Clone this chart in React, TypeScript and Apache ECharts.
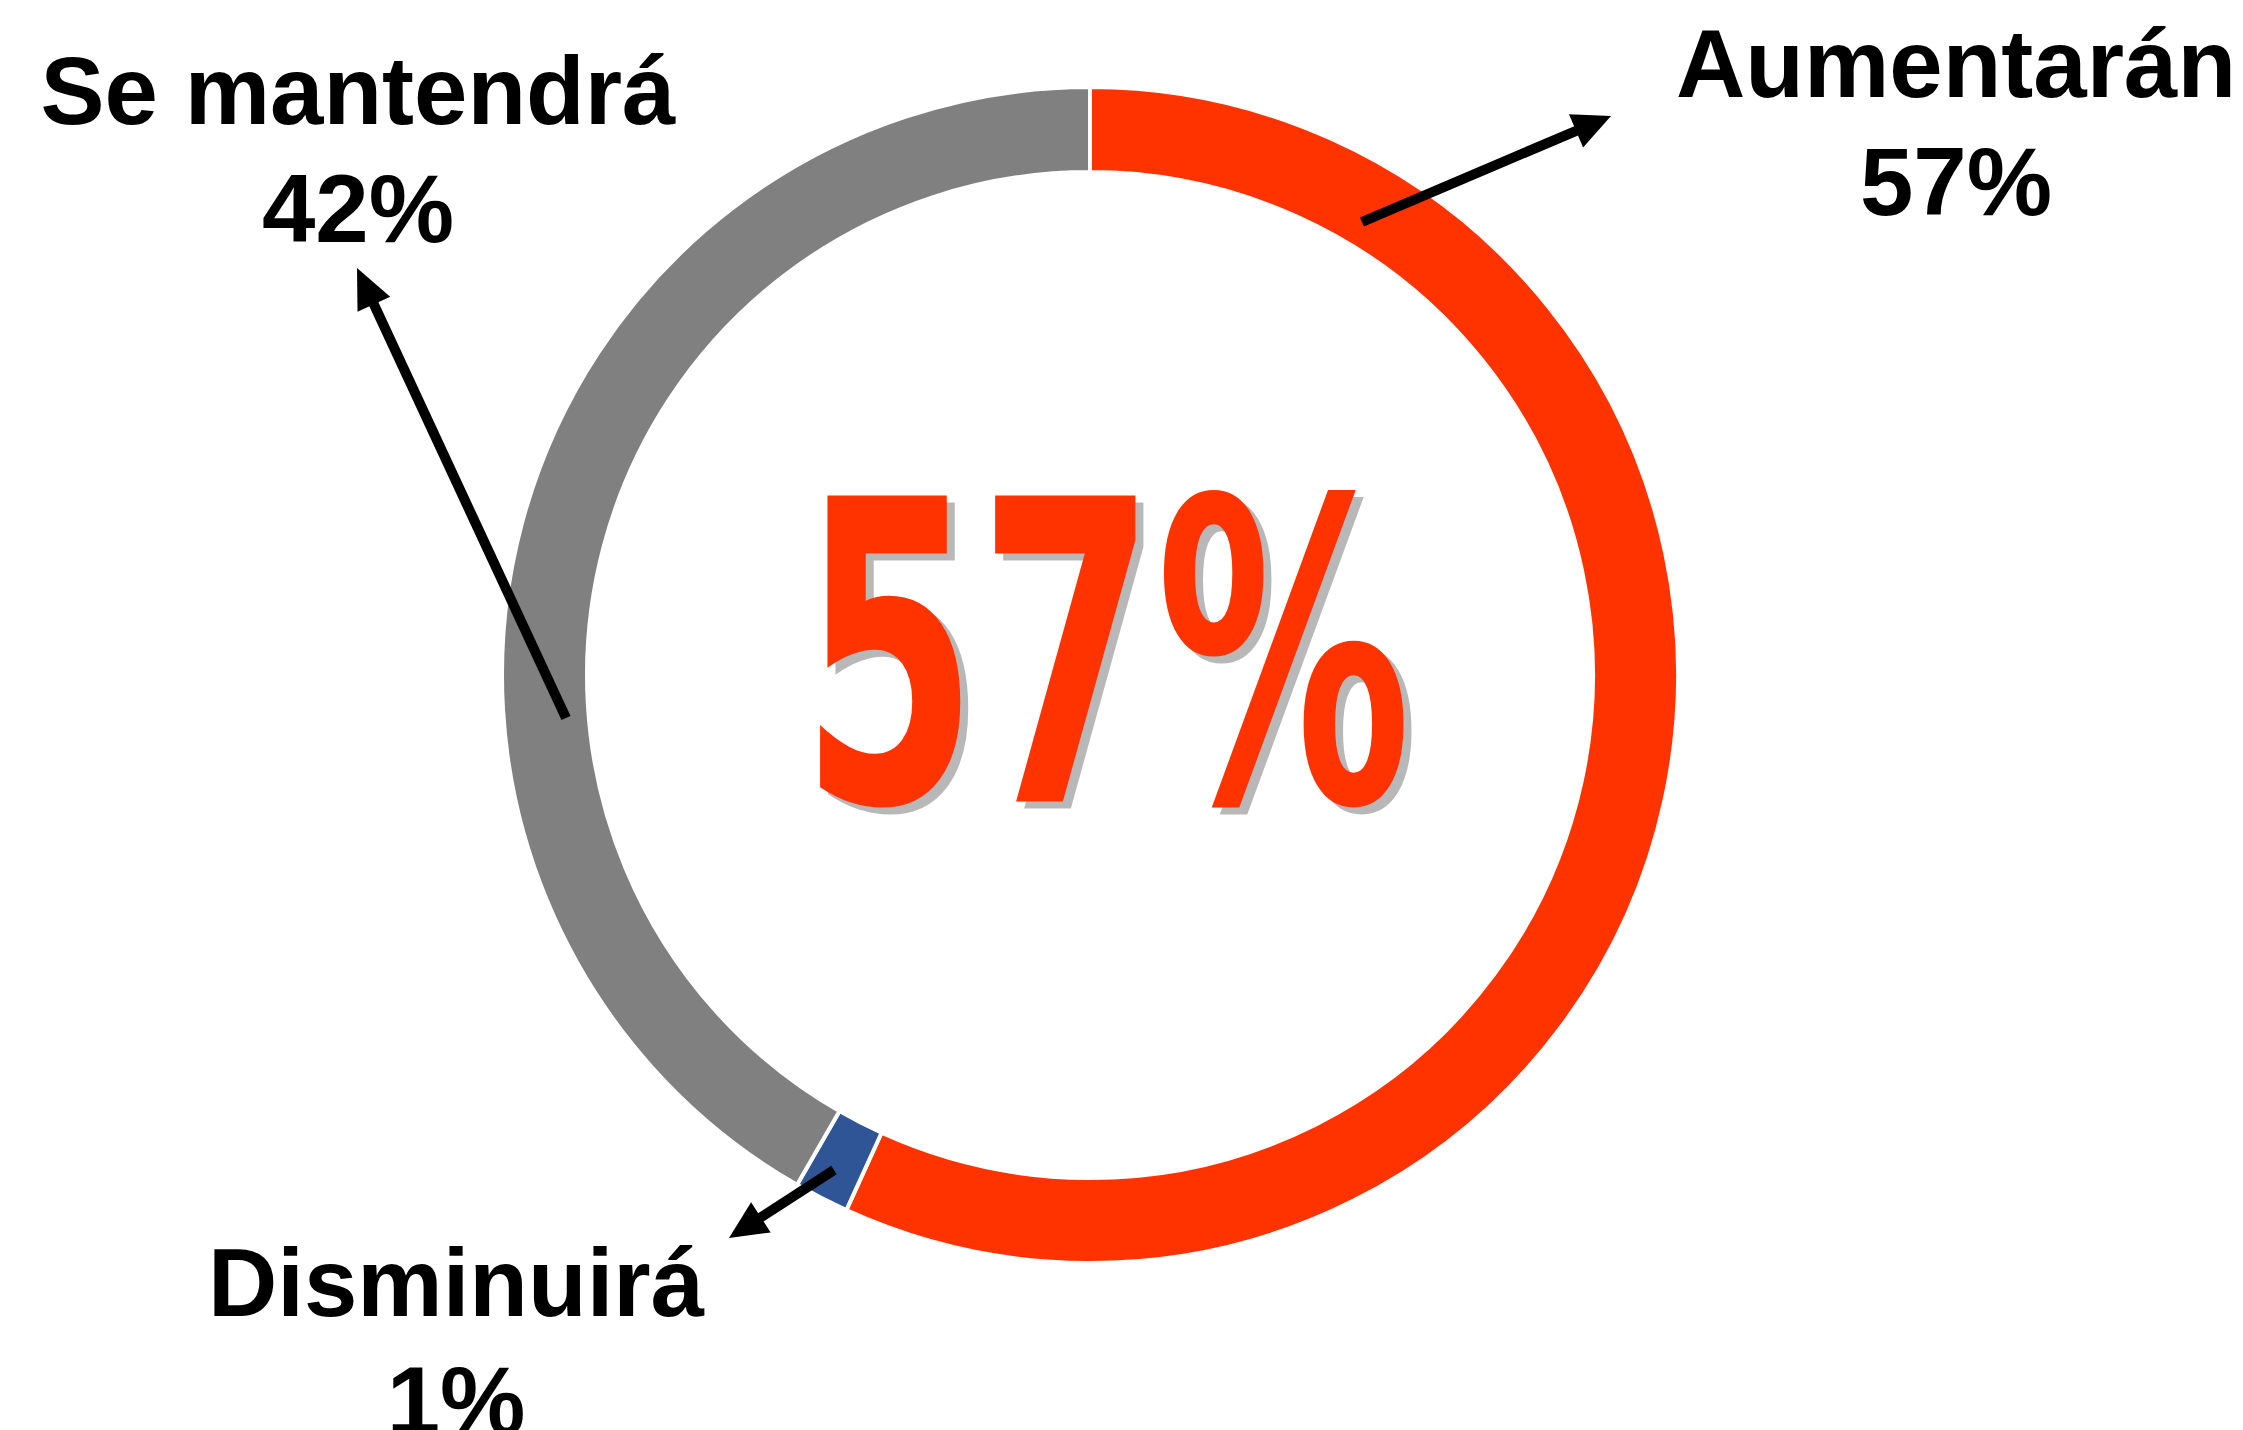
import React, { useEffect, useRef } from "react";
import * as echarts from "echarts";

const categories = ["Aumentarán", "Disminuirá", "Se mantendrá"];
const values = [56.8, 1.5, 41.7];
const labelPercents = [57, 1, 42];
const colors = ["#FF3300", "#2F5597", "#808080"];

type Pt = [number, number];

function arrow(from: Pt, to: Pt, lw: number, headLen: number, headW: number) {
  const dx = to[0] - from[0];
  const dy = to[1] - from[1];
  const len = Math.sqrt(dx * dx + dy * dy);
  const ux = dx / len;
  const uy = dy / len;
  const px = -uy;
  const py = ux;
  const bx = to[0] - ux * headLen;
  const by = to[1] - uy * headLen;
  return [
    {
      type: "line",
      shape: { x1: from[0], y1: from[1], x2: bx + ux * 4, y2: by + uy * 4 },
      style: { stroke: "#000", lineWidth: lw },
      z: 100,
    },
    {
      type: "polygon",
      shape: {
        points: [
          [to[0], to[1]],
          [bx + (px * headW) / 2, by + (py * headW) / 2],
          [bx - (px * headW) / 2, by - (py * headW) / 2],
        ],
      },
      style: { fill: "#000" },
      z: 100,
    },
  ];
}

export default function App() {
  const ref = useRef<HTMLDivElement>(null);
  useEffect(() => {
    if (!ref.current) return;
    const chart = echarts.init(ref.current, undefined, { renderer: "svg" });
    const labelFont = {
      fontFamily: "'Liberation Sans', Arial, sans-serif",
      fontWeight: "bold",
      fontSize: 96,
      lineHeight: 118,
      textAlign: "center",
      textVerticalAlign: "top",
      fill: "#000",
    };
    const bigFont = {
      text: labelPercents[0] + "%",
      fontFamily: "'DejaVu Sans', sans-serif",
      fontWeight: "bold",
      fontSize: 420,
      textAlign: "center",
      textVerticalAlign: "middle",
    };
    const option: any = {
      animation: false,
      backgroundColor: "#ffffff",
      series: [
        {
          type: "pie",
          radius: [503, 588],
          center: [1090, 675],
          startAngle: 90,
          clockwise: true,
          label: { show: false },
          labelLine: { show: false },
          emphasis: { disabled: true },
          itemStyle: { borderColor: "#ffffff", borderWidth: 4 },
          data: categories.map((c, i) => ({
            name: c,
            value: values[i],
            itemStyle: { color: colors[i] },
          })),
        },
      ],
      graphic: [
        {
          type: "text",
          x: 1114,
          y: 663,
          scaleX: 0.608,
          z: 49,
          style: { ...bigFont, fill: "rgba(0,0,0,0.28)" },
        },
        {
          type: "text",
          x: 1106,
          y: 656,
          scaleX: 0.608,
          z: 50,
          style: { ...bigFont, fill: "#FF3300" },
        },
        {
          type: "text",
          x: 358,
          y: 31,
          style: { ...labelFont, text: categories[2] + "\n" + labelPercents[2] + "%" },
        },
        {
          type: "text",
          x: 1956,
          y: 4,
          style: { ...labelFont, text: categories[0] + "\n" + labelPercents[0] + "%" },
        },
        {
          type: "text",
          x: 456,
          y: 1223,
          style: { ...labelFont, text: categories[1] + "\n" + labelPercents[1] + "%" },
        },
        ...arrow([1362, 222], [1611, 116], 10, 38, 36),
        ...arrow([566, 718], [357, 268], 10, 40, 36),
        ...arrow([834, 1170], [729, 1238], 10, 38, 36),
      ],
    };
    chart.setOption(option);
    return () => chart.dispose();
  }, []);
  return (
    <div
      ref={ref}
      style={{ position: "fixed", left: 0, top: 0, width: 2243, height: 1430 }}
    />
  );
}
